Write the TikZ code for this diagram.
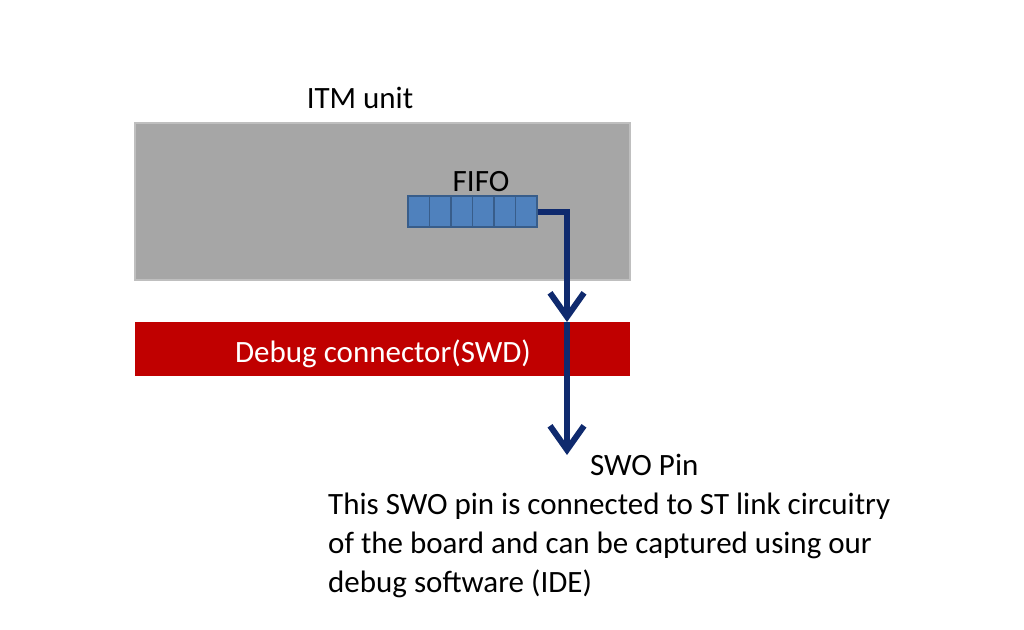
\documentclass[tikz,border=0pt]{standalone}
\usepackage{fontspec}
\setmainfont{Carlito}
\usetikzlibrary{arrows.meta}
\definecolor{boxgray}{HTML}{A6A6A6}
\definecolor{boxedge}{HTML}{BFBFBF}
\definecolor{fifofill}{HTML}{4F81BD}
\definecolor{fifoedge}{HTML}{385D8A}
\definecolor{navy}{HTML}{0F2A6E}
\definecolor{dred}{HTML}{C00000}
\begin{document}
\begin{tikzpicture}[x=1pt,y=-1pt,
  lbl/.style={font=\fontsize{31}{38}\selectfont, inner sep=0pt},
  conn/.style={draw=navy, line width=6pt, -{Straight Barb[length=24pt,width=34pt,line width=6pt]}},
  cell/.style={draw=fifoedge, line width=1.5pt, fill=fifofill, minimum width=21.5pt, minimum height=31pt, inner sep=0pt}]
\useasboundingbox (0,0) rectangle (1024,629);
\node[draw=boxedge, line width=2pt, fill=boxgray, minimum width=495pt, minimum height=157pt, inner sep=0pt] (itm) at (382.5,201.5) {};
\node[lbl, anchor=base] (itml) at (360,108) {ITM unit};
\foreach \i in {0,...,5}{
  \node[cell] (c\i) at (418.75+21.5*\i,211.5) {};
}
\node[lbl, anchor=base] (fifol) at (481,191) {FIFO};
\node[fill=dred, minimum width=495pt, minimum height=54pt, inner sep=0pt] (dbg) at (382.5,349) {};
\node[lbl, text=white, anchor=base] (dbgl) at (383,362) {Debug connector(SWD)};
\coordinate (bend) at (567,211.5);
\coordinate (mid) at (567,322);
\coordinate (end) at (567,455);
\draw[conn, line join=miter] (c5.east) -- (bend) -- (mid);
\draw[conn] (mid) -- (end);
\node[lbl, anchor=base west] (swo) at (590,475) {SWO Pin};
\node[lbl, anchor=north west, align=left, font=\fontsize{31}{39}\selectfont] (desc) at (328,493)
  {This SWO pin is connected to ST link circuitry\\of the board and can be captured using our\\debug software (IDE)};
\end{tikzpicture}
\end{document}
